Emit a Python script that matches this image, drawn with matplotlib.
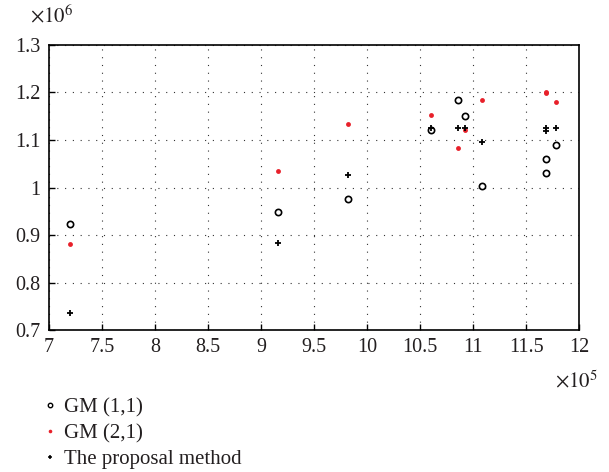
import numpy as np
import matplotlib
matplotlib.use("Agg")
import matplotlib.pyplot as plt
from matplotlib.lines import Line2D

plt.rcParams['font.family'] = ['Liberation Serif', 'DejaVu Serif']
plt.rcParams['mathtext.fontset'] = 'stix'
plt.rcParams['text.color'] = '#231f20'
plt.rcParams['xtick.labelcolor'] = '#231f20'
plt.rcParams['ytick.labelcolor'] = '#231f20'

# x values (x10^5) and predictions (x10^6)
x = [7.2, 9.16, 9.82, 10.6, 10.86, 10.92, 11.08, 11.69, 11.69, 11.78]
gm11 = [0.924, 0.949, 0.976, 1.120, 1.184, 1.151, 1.003, 1.060, 1.031, 1.089]
gm21 = [0.882, 1.035, 1.134, 1.153, 1.083, 1.120, 1.184, 1.200, 1.198, 1.180]
proposal = [0.736, 0.884, 1.027, 1.126, 1.126, 1.126, 1.096, 1.125, 1.118, 1.125]

xticks = np.arange(7, 12.01, 0.5)
xticklabels = ["7", "7.5", "8", "8.5", "9", "9.5", "10", "10.5", "11", "11.5", "12"]
yticks = np.arange(0.7, 1.31, 0.1)
yticklabels = ["0.7", "0.8", "0.9", "1", "1.1", "1.2", "1.3"]

fig = plt.figure(figsize=(6.09, 4.72), dpi=100)
ax = fig.add_axes([0.0805, 0.3008, 0.8705, 0.6039])

ax.plot(x, gm11, linestyle='none', marker='o', markersize=4.5, markerfacecolor='none',
        markeredgecolor='k', markeredgewidth=1.2)
ax.plot(x, gm21, linestyle='none', marker='o', markersize=3.5, color='#e8202a',
        markeredgewidth=0)
ax.plot(x, proposal, linestyle='none', marker='+', markersize=4.5, color='k',
        markeredgewidth=1.3)

ax.set_xlim(7, 12)
ax.set_ylim(0.7, 1.3)
ax.set_xticks(xticks)
ax.set_xticklabels(xticklabels)
ax.set_yticks(yticks)
ax.set_yticklabels(yticklabels)
ax.tick_params(direction='in', length=4, width=1, labelsize=14.5, pad=6)
ax.grid(True, color='#333333', linestyle=(0, (1, 6)), linewidth=0.8)
for s in ax.spines.values():
    s.set_linewidth(1.2)

fig.text(0.05, 0.952, r"$\times10^6$", fontsize=15, ha='left', va='baseline')
fig.text(0.912, 0.18, r"$\times10^5$", fontsize=15, ha='left', va='baseline')

handles = [
    Line2D([], [], linestyle='none', marker='o', markersize=3.2, markerfacecolor='none',
           markeredgecolor='k', markeredgewidth=1.0),
    Line2D([], [], linestyle='none', marker='o', markersize=2.6, color='#e8202a',
           markeredgewidth=0),
    Line2D([], [], linestyle='none', marker='+', markersize=3.2, color='k',
           markeredgewidth=1.1),
]
fig.legend(handles, ["GM (1,1)", "GM (2,1)", "The proposal method"],
           loc='upper left', bbox_to_anchor=(0.068, 0.157), frameon=False,
           fontsize=15, handletextpad=0.3, labelspacing=0.3, handlelength=0.8,
           borderpad=0, borderaxespad=0)

fig.savefig("out.png", dpi=100)
